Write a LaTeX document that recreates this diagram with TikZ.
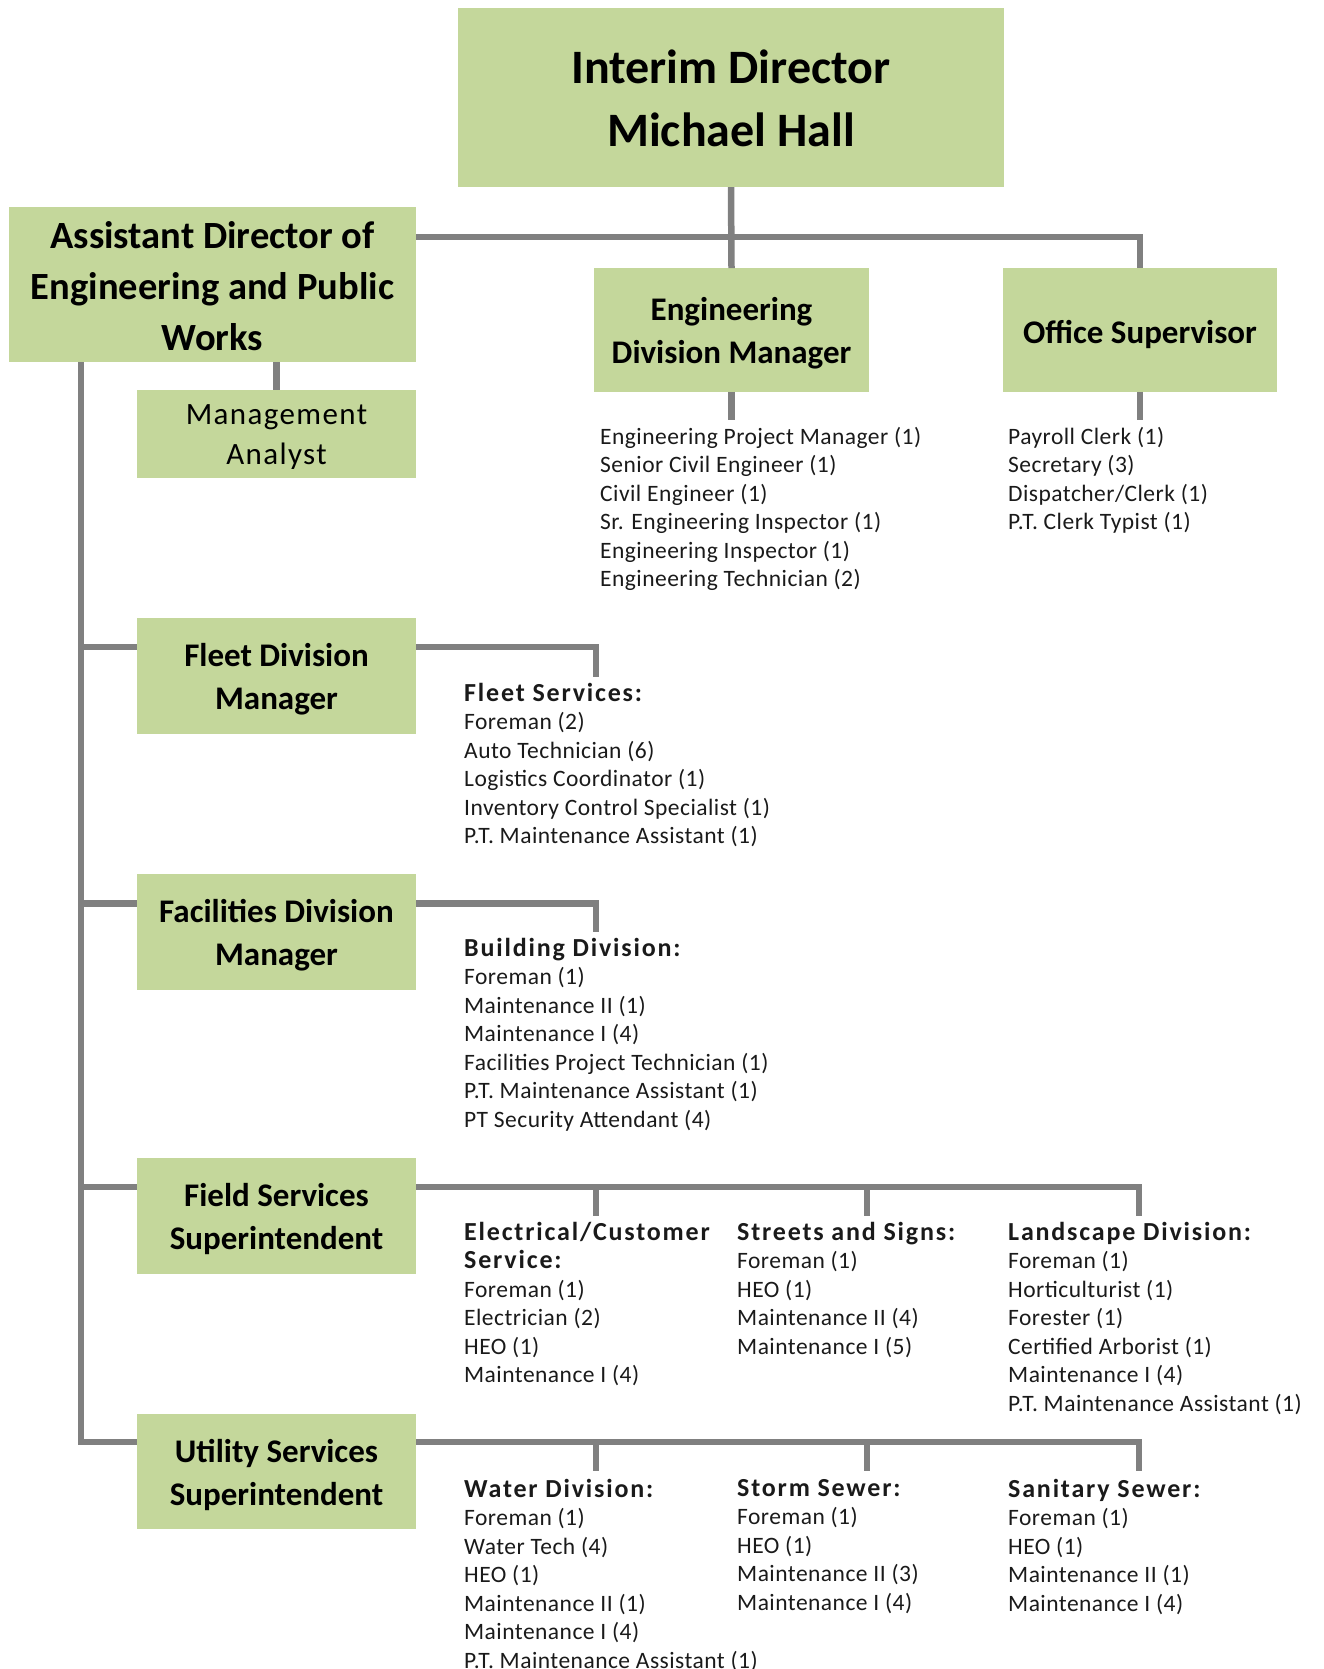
\documentclass[tikz,border=0pt]{standalone}
\usepackage{fontspec}
\setmainfont{Carlito}
\definecolor{boxfill}{HTML}{C4D79B}
\definecolor{wiregray}{HTML}{808080}
\definecolor{listtext}{HTML}{1A1A1A}
\tikzset{
  unit/.style={fill=boxfill, inner sep=0pt},
  caption/.style={inner sep=0pt, align=center, text=black},
  bigtitle/.style={caption, font=\bfseries\fontsize{48}{63}\selectfont},
  midtitle/.style={caption, font=\bfseries\fontsize{38.5}{51}\selectfont},
  boxtitle/.style={caption, font=\bfseries\fontsize{33}{43}\selectfont},
  plaintitle/.style={caption, font=\fontsize{31}{40.5}\selectfont\addfontfeatures{LetterSpace=4.5}},
  link/.style={draw=wiregray, line width=6.5pt, line join=miter},
  staff/.style={anchor=north west, inner sep=0pt, align=left, text=listtext,
    font=\fontsize{23.5}{28.5}\selectfont\addfontfeatures{LetterSpace=2}},
}
\newcommand{\grouphead}[1]{{\fontsize{26}{28.5}\bfseries\selectfont\addfontfeatures{LetterSpace=7}#1}}
\begin{document}
\begin{tikzpicture}[x=1pt,y=-1pt]
\useasboundingbox (0,0) rectangle (1323,1669);

% ---- boxes ----
\node[unit, minimum width=546pt, minimum height=179pt] (director) at (731,97.5) {};
\node[unit, minimum width=407pt, minimum height=155pt] (assistant) at (212.5,284.5) {};
\node[unit, minimum width=279pt, minimum height=88pt] (analyst) at (276.5,434) {};
\node[unit, minimum width=275pt, minimum height=123.5pt] (engineering) at (731.5,330) {};
\node[unit, minimum width=274pt, minimum height=123.5pt] (office) at (1140,330) {};
\node[unit, minimum width=279pt, minimum height=116pt] (fleet) at (276.5,676) {};
\node[unit, minimum width=279pt, minimum height=116pt] (facilities) at (276.5,932) {};
\node[unit, minimum width=279pt, minimum height=116pt] (field) at (276.5,1216) {};
\node[unit, minimum width=279pt, minimum height=115pt] (utility) at (276.5,1471) {};

% ---- box captions ----
\node[bigtitle] (directortext) at ([yshift=-1pt]director.center) {Interim Director\\Michael Hall};
\node[midtitle] (assistanttext) at ([yshift=-2pt]assistant.center)
  {Assistant Director of\\Engineering and Public\\Works};
\node[plaintitle] (analysttext) at ([yshift=-3pt]analyst.center) {Management\\Analyst};
\node[boxtitle] (engineeringtext) at ([yshift=-3pt]engineering.center) {Engineering\\Division Manager};
\node[boxtitle] (officetext) at ([yshift=-4pt]office.center) {Office Supervisor};
\node[boxtitle] (fleettext) at ([yshift=-3pt]fleet.center) {Fleet Division\\Manager};
\node[boxtitle] (facilitiestext) at ([yshift=-3pt]facilities.center) {Facilities Division\\Manager};
\node[boxtitle] (fieldtext) at ([yshift=-3pt]field.center) {Field Services\\Superintendent};
\node[boxtitle] (utilitytext) at ([yshift=-4pt]utility.center) {Utility Services\\Superintendent};

% ---- staff lists ----
\node[staff] (englist) at (600,427)
  {Engineering Project Manager (1)\\Senior Civil Engineer (1)\\Civil Engineer (1)\\
   Sr. Engineering Inspector (1)\\Engineering Inspector (1)\\Engineering Technician (2)};
\node[staff] (officelist) at (1008,427)
  {Payroll Clerk (1)\\Secretary (3)\\Dispatcher/Clerk (1)\\P.T. Clerk Typist (1)};
\node[staff] (fleetlist) at (464,683)
  {\grouphead{Fleet Services:}\\Foreman (2)\\Auto Technician (6)\\Logistics Coordinator (1)\\
   Inventory Control Specialist (1)\\P.T. Maintenance Assistant (1)};
\node[staff] (buildlist) at (464,938)
  {\grouphead{Building Division:}\\Foreman (1)\\Maintenance II (1)\\Maintenance I (4)\\
   Facilities Project Technician (1)\\P.T. Maintenance Assistant (1)\\PT Security Attendant (4)};
\node[staff] (eleclist) at (464,1222)
  {\grouphead{Electrical/Customer}\\\grouphead{Service:}\\Foreman (1)\\Electrician (2)\\HEO (1)\\Maintenance I (4)};
\node[staff] (streetlist) at (737,1222)
  {\grouphead{Streets and Signs:}\\Foreman (1)\\HEO (1)\\Maintenance II (4)\\Maintenance I (5)};
\node[staff] (landlist) at (1008,1222)
  {\grouphead{Landscape Division:}\\Foreman (1)\\Horticulturist (1)\\Forester (1)\\
   Certified Arborist (1)\\Maintenance I (4)\\P.T. Maintenance Assistant (1)};
\node[staff] (waterlist) at (464,1479)
  {\grouphead{Water Division:}\\Foreman (1)\\Water Tech (4)\\HEO (1)\\Maintenance II (1)\\
   Maintenance I (4)\\P.T. Maintenance Assistant (1)};
\node[staff] (stormlist) at (737,1479)
  {\grouphead{Storm Sewer:}\\Foreman (1)\\HEO (1)\\Maintenance II (3)\\Maintenance I (4)};
\node[staff] (sanitarylist) at (1008,1479)
  {\grouphead{Sanitary Sewer:}\\Foreman (1)\\HEO (1)\\Maintenance II (1)\\Maintenance I (4)};

% ---- junction points ----
\coordinate (topbus) at (1140,237);
\coordinate (engtail) at (731.5,420);
\coordinate (officetail) at (1140,420);
\coordinate (spinetop) at (81,362);
\coordinate (spinebot) at (81,1442);
\coordinate (fleetbus) at (81,647);
\coordinate (fleetdrop) at (596,677);
\coordinate (facbus) at (81,903.5);
\coordinate (facdrop) at (596,932);
\coordinate (fieldbus) at (81,1187);
\coordinate (fielddropA) at (596,1216);
\coordinate (fielddropB) at (867,1216);
\coordinate (fielddropC) at (1139,1216);
\coordinate (utilbus) at (81,1442);
\coordinate (utildropA) at (596,1471);
\coordinate (utildropB) at (867,1471);
\coordinate (utildropC) at (1139,1471);

% ---- connectors ----
\draw[link] (director.south) -- (engineering.north);
\draw[link] (assistant.east |- topbus) -- (topbus) -- (office.north);
\draw[link] (engineering.south) -- (engtail);
\draw[link] (office.south) -- (officetail);
\draw[link] (assistant.south -| analyst.north) -- (analyst.north);
\draw[link] (spinetop) -- (spinebot) -- (utility.west |- spinebot);
\draw[link] (fleetbus) -- (fleet.west |- fleetbus);
\draw[link] (facbus) -- (facilities.west |- facbus);
\draw[link] (fieldbus) -- (field.west |- fieldbus);
\draw[link] (fleet.east |- fleetbus) -| (fleetdrop);
\draw[link] (facilities.east |- facbus) -| (facdrop);
\draw[link] (field.east |- fieldbus) -| (fielddropC);
\draw[link] (fielddropA |- fieldbus) -- (fielddropA);
\draw[link] (fielddropB |- fieldbus) -- (fielddropB);
\draw[link] (utility.east |- utilbus) -| (utildropC);
\draw[link] (utildropA |- utilbus) -- (utildropA);
\draw[link] (utildropB |- utilbus) -- (utildropB);
\end{tikzpicture}
\end{document}
